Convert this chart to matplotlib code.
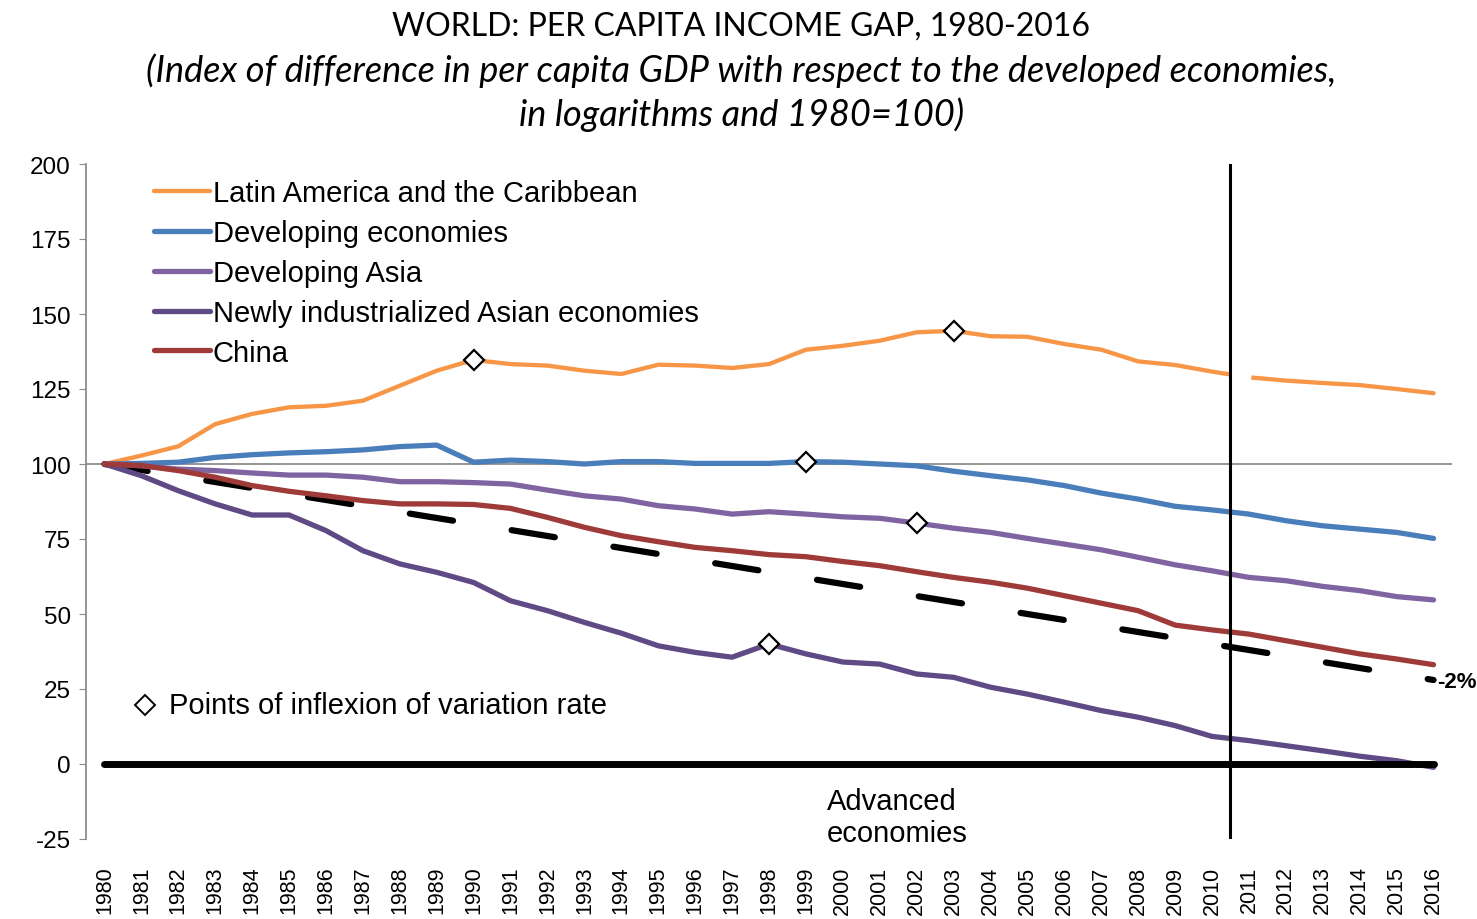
import numpy as np
import matplotlib
matplotlib.use("Agg")
import matplotlib.pyplot as plt

plt.rcParams["font.family"] = ["Liberation Sans", "DejaVu Sans"]
plt.rcParams["axes.unicode_minus"] = False

years = list(range(1980, 2017))

latam = [100, 102.8, 105.9, 113.3, 116.7, 118.9, 119.4, 121.1, 126.1, 131.1,
         134.7, 133.3, 132.8, 131.1, 130.0, 133.1, 132.8, 132.0, 133.3, 138.1,
         139.4, 141.1, 143.9, 144.4, 142.6, 142.4, 140.0, 138.1, 134.2, 133.0,
         130.8, 128.9, 127.8, 127.0, 126.3, 125.0, 123.6]
dev_econ = [100, 100.2, 100.6, 102.2, 103.1, 103.7, 104.1, 104.7, 105.8, 106.3,
            100.6, 101.3, 100.8, 100.0, 100.8, 100.8, 100.2, 100.2, 100.2, 100.8,
            100.6, 100.0, 99.4, 97.6, 96.1, 94.7, 92.8, 90.3, 88.3, 85.9,
            84.7, 83.3, 81.1, 79.4, 78.3, 77.2, 75.2]
dev_asia = [100, 99.4, 98.3, 97.8, 97.0, 96.3, 96.3, 95.6, 94.1, 94.1,
            93.8, 93.3, 91.3, 89.4, 88.3, 86.1, 85.0, 83.3, 84.1, 83.3,
            82.4, 81.9, 80.3, 78.6, 77.2, 75.2, 73.3, 71.4, 68.9, 66.4,
            64.4, 62.2, 61.1, 59.2, 57.8, 55.8, 54.7]
niae = [100, 96.1, 91.1, 86.7, 83.0, 83.0, 77.8, 71.1, 66.7, 63.9,
        60.5, 54.4, 51.1, 47.2, 43.6, 39.4, 37.2, 35.6, 40.0, 36.7,
        34.0, 33.3, 30.0, 28.9, 25.6, 23.3, 20.6, 17.8, 15.6, 12.8,
        9.2, 7.8, 6.1, 4.4, 2.6, 1.1, -1.1]
china = [100, 99.5, 97.8, 95.6, 92.8, 90.9, 89.4, 87.8, 86.7, 86.7,
         86.5, 85.2, 82.2, 78.9, 76.1, 74.1, 72.2, 71.1, 69.8, 69.1,
         67.5, 66.1, 64.1, 62.2, 60.6, 58.6, 56.1, 53.6, 51.1, 46.3,
         44.7, 43.3, 41.1, 38.9, 36.7, 35.0, 33.1]

# -2% reference trend (start and end)
trend_years = [1980, 2016]
trend_vals = [100, 28]

labels = ["Latin America and the Caribbean", "Developing economies",
          "Developing Asia", "Newly industrialized Asian economies", "China"]
colors = ["#F79646", "#4A7EBB", "#8064A2", "#5F4A85", "#9E3B39"]
series = [latam, dev_econ, dev_asia, niae, china]

# inflexion points: (series index, year)
inflex = [(0, 1990), (0, 2003), (1, 1999), (2, 2002), (3, 1998)]

fig = plt.figure(figsize=(14.77, 9.2), dpi=100)
ax = fig.add_axes([86 / 1477, 80 / 920, 1366 / 1477, 675 / 920])

ax.axhline(100, color="#8c8c8c", lw=1.3, zorder=1)

ax.plot(trend_years, trend_vals, color="black", lw=4.5,
        dashes=(7, 9.5), dash_capstyle="round", zorder=2)

for vals, lab, col in zip(series, labels, colors):
    lw = 3.1 if col == "#F79646" else 3.8
    ax.plot(years, vals, color=col, lw=lw, label=lab,
            solid_capstyle="round", solid_joinstyle="round", zorder=3)

# small break in the orange line right after the vertical marker
gap_x = [2010.62, 2010.97]
ax.plot(gap_x, np.interp(gap_x, years, latam), color="white", lw=5, zorder=4)

ax.plot([years[0], years[-1]], [0, 0], color="black", lw=5,
        solid_capstyle="round", zorder=5)
ax.axvline(2010.5, color="black", lw=2.2, zorder=6)

for idx, yr in inflex:
    ax.plot(yr, series[idx][years.index(yr)], marker="D", ms=10,
            mfc="white", mec="black", mew=1.6, zorder=7, linestyle="none")

ax.set_xlim(1979.5, 2016.5)
ax.set_ylim(-25, 200)
ax.set_yticks(np.arange(-25, 201, 25))
ax.set_xticks(years)
ax.set_xticklabels([str(y) for y in years], rotation=90, fontsize=15.5)
ax.tick_params(axis="x", length=0, pad=19)
ax.tick_params(axis="y", direction="out", length=5, color="#8c8c8c",
               labelsize=17.5, pad=6)

for s in ["top", "right", "bottom"]:
    ax.spines[s].set_visible(False)
ax.spines["left"].set_color("#8c8c8c")
ax.spines["left"].set_linewidth(1.3)

ax.legend(loc="upper left", bbox_to_anchor=(0.05, 0.978), frameon=False,
          fontsize=21, handlelength=1.9, handletextpad=0.1,
          labelspacing=0.41, borderpad=0, borderaxespad=0)

ax.plot(1981.1, 19.7, marker="D", ms=10, mfc="white", mec="black", mew=1.4,
        linestyle="none", clip_on=False)
ax.text(1981.75, 19.7, "Points of inflexion of variation rate", fontsize=21,
        va="center", ha="left")
ax.text(1999.57, -17.7, "Advanced\neconomies", fontsize=21, va="center",
        ha="left", linespacing=1.2)
ax.text(2016.1, 27.5, "-2%", fontsize=16, fontweight="bold", va="center",
        ha="left", clip_on=False)

fig.text(0.502, 0.971, "WORLD: PER CAPITA INCOME GAP, 1980-2016",
         ha="center", va="center", fontsize=23, family=["Lato", "DejaVu Sans"])
fig.text(0.502, 0.923,
         "(Index of difference in per capita GDP with respect to the developed economies,",
         ha="center", va="center", fontsize=26, style="italic",
         family=["Lato", "DejaVu Sans"])
fig.text(0.502, 0.875, "in logarithms and 1980=100)",
         ha="center", va="center", fontsize=26, style="italic",
         family=["Lato", "DejaVu Sans"])

fig.savefig("out.png", dpi=100)
